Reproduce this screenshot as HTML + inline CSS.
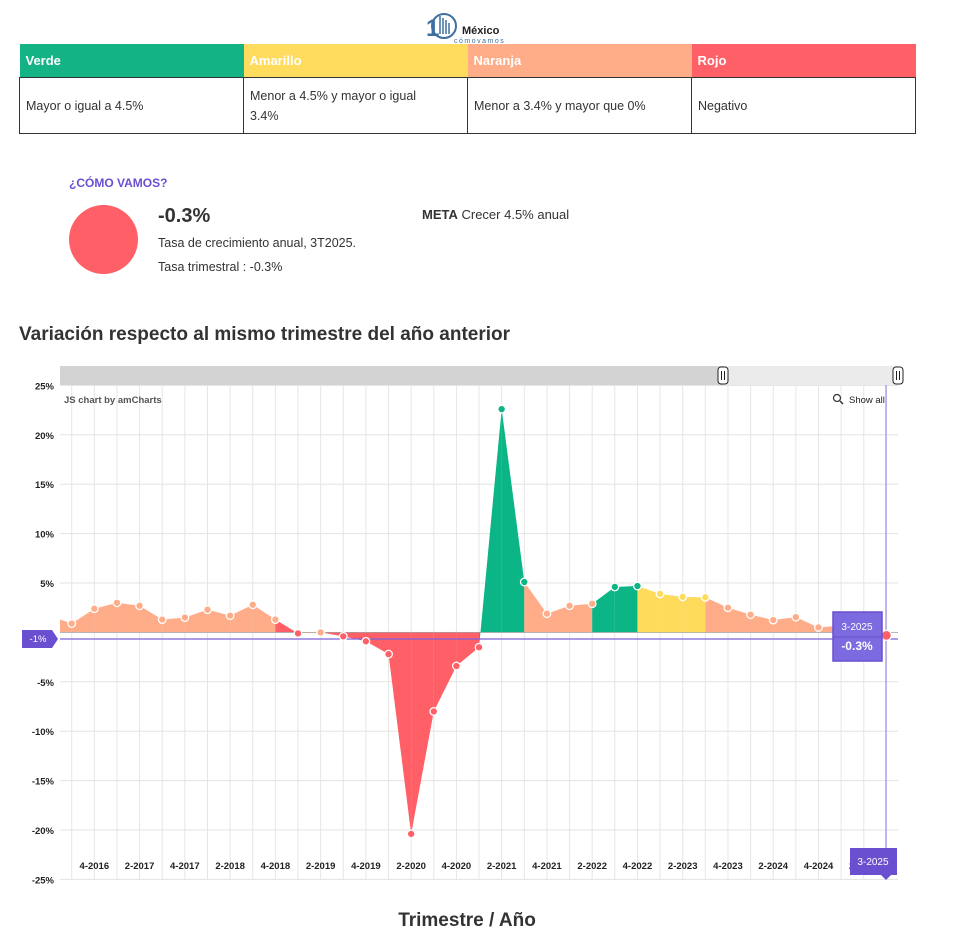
<!DOCTYPE html>
<html><head><meta charset="utf-8">
<style>
body{margin:0;background:#fff;font-family:"Liberation Sans",sans-serif;color:#333;width:954px;height:930px;overflow:hidden;position:relative}
.abs{position:absolute}
table{position:absolute;left:19px;top:44px;width:897px;border-collapse:collapse;table-layout:fixed}
th{height:33px;color:#fff;text-align:left;font-size:13px;padding:0 6px;font-weight:bold}
td{height:55px;border:1px solid #333;font-size:12.5px;padding:0 6px;line-height:20px;color:#333}
</style></head><body>
<div class="abs" style="left:426px;top:8px;width:110px;height:36px">
<svg width="110" height="36"><text x="0" y="28" font-size="24" font-weight="bold" fill="#3e6fa0" font-family="Liberation Sans">1</text>
<circle cx="18" cy="18" r="12" fill="none" stroke="#3e6fa0" stroke-width="2"/>
<g stroke="#3e6fa0" stroke-width="1.5"><line x1="14" y1="8" x2="14" y2="26"/><line x1="17" y1="10" x2="17" y2="26"/><line x1="20" y1="12" x2="20" y2="26"/><line x1="23" y1="15" x2="23" y2="26"/></g>
<text x="36" y="26" font-size="11" font-weight="bold" fill="#222" font-family="Liberation Sans">México</text>
<text x="28" y="35" font-size="7" letter-spacing="1.5" fill="#3e6fa0" font-family="Liberation Sans">cómovamos</text></svg></div>
<table><tr><th style="background:#13b386">Verde</th><th style="background:#ffdb5e">Amarillo</th><th style="background:#ffad89">Naranja</th><th style="background:#ff5f67">Rojo</th></tr>
<tr><td>Mayor o igual a 4.5%</td><td>Menor a 4.5% y mayor o igual<br>3.4%</td><td>Menor a 3.4% y mayor que 0%</td><td>Negativo</td></tr></table>
<div class="abs" style="left:69px;top:176px;font-size:12px;font-weight:bold;color:#6a4fd0">¿CÓMO VAMOS?</div>
<div class="abs" style="left:69px;top:205px;width:69px;height:69px;border-radius:50%;background:#ff5f67"></div>
<div class="abs" style="left:158px;top:205px;font-size:20px;font-weight:bold;color:#333">-0.3%</div>
<div class="abs" style="left:158px;top:236px;font-size:12.5px">Tasa de crecimiento anual, 3T2025.</div>
<div class="abs" style="left:158px;top:260px;font-size:12.5px">Tasa trimestral : -0.3%</div>
<div class="abs" style="left:422px;top:207px;font-size:13px"><b>META</b> Crecer 4.5% anual</div>
<div class="abs" style="left:19px;top:324px;font-size:19px;font-weight:bold;color:#333">Variación respecto al mismo trimestre del año anterior</div>
<svg id="ch" class="abs" style="left:0;top:0" width="954" height="930"></svg>
<div class="abs" style="left:0;width:934px;text-align:center;top:910px;font-size:19px;font-weight:bold;color:#333">Trimestre / Año</div>
<script>
var v=[0.9,2.4,3.0,2.7,1.3,1.5,2.3,1.7,2.8,1.3,-0.1,0.0,-0.4,-0.9,-2.2,-20.4,-8.0,-3.4,-1.5,22.6,5.1,1.9,2.7,2.9,4.6,4.7,3.9,3.6,3.55,2.5,1.8,1.25,1.55,0.5,0.7,0.6,-0.3];
var Z=632.4,K=9.88,X0=71.7,DX=22.63;
function y(p){return Z-p*K}function x(i){return X0+DX*i}
function col(p){return p>=4.5?'#0cb585':p>=3.4?'#ffdb5c':p>=0?'#ffac89':'#ff5f66'}
var s='';
for(var i=0;i<37;i++)s+='<line x1="'+x(i)+'" y1="385" x2="'+x(i)+'" y2="879" stroke="#e6e6e6"/>';
for(var p=-25;p<=25;p+=5){s+='<line x1="60" y1="'+y(p)+'" x2="898" y2="'+y(p)+'" stroke="#e3e3e3"/>';
s+='<text x="54" y="'+(y(p)+4)+'" text-anchor="end" font-size="9.5" font-weight="bold" fill="#222">'+p+'%</text>';}
function seg(xa,ya,xb,yb,c){s+='<polygon points="'+xa+','+Z+' '+xa+','+ya+' '+xb+','+yb+' '+xb+','+Z+'" fill="'+c+'"/>';}
seg(60,y(1.3),x(0),y(v[0]),col(v[0]));
for(var i=0;i<36;i++)seg(x(i),y(v[i]),x(i+1),y(v[i+1]),col(v[i+1]));
s+='<line x1="60" y1="'+Z+'" x2="898" y2="'+Z+'" stroke="#999" stroke-width="0.6"/>';
s+='<line x1="60" y1="639" x2="898" y2="639" stroke="#7a62d8" stroke-width="1.2"/>';
s+='<line x1="886" y1="385" x2="886" y2="879" stroke="#9b8ee6" stroke-width="1.2"/>';
for(var i=0;i<37;i++){var c=col(v[i]);s+='<circle cx="'+x(i)+'" cy="'+y(v[i])+'" r="'+(i==36?5:3.8)+'" fill="'+c+'" stroke="#fff" stroke-width="1.3"/>';}
var L=['4-2016','2-2017','4-2017','2-2018','4-2018','2-2019','4-2019','2-2020','4-2020','2-2021','4-2021','2-2022','4-2022','2-2023','4-2023','2-2024','4-2024','2-2025'];
for(var k=0;k<18;k++)s+='<text x="'+x(1+2*k)+'" y="869" text-anchor="middle" font-size="9.5" font-weight="bold" fill="#222">'+L[k]+'</text>';
s+='<rect x="60" y="366" width="838" height="19" fill="#ebebeb"/><rect x="60" y="366" width="663" height="19" fill="#d3d3d3"/>';
[723,898].forEach(function(g){s+='<rect x="'+(g-5)+'" y="367" width="10" height="17" rx="3" fill="#fff" stroke="#222"/><line x1="'+(g-1.5)+'" y1="371" x2="'+(g-1.5)+'" y2="380" stroke="#222"/><line x1="'+(g+1.5)+'" y1="371" x2="'+(g+1.5)+'" y2="380" stroke="#222"/>';});
s+='<text x="64" y="403" font-size="9.5" font-weight="bold" fill="#555">JS chart by amCharts</text>';
s+='<circle cx="837" cy="398" r="3.5" fill="none" stroke="#333" stroke-width="1.2"/><line x1="840" y1="401" x2="843" y2="404" stroke="#333" stroke-width="1.5"/>';
s+='<text x="849" y="403" font-size="9.5" fill="#222">Show all</text>';
s+='<polygon points="22,630 52,630 58,639 52,648 22,648" fill="#6a4fd0"/><text x="38" y="642" text-anchor="middle" font-size="9.5" fill="#fff">-1%</text>';
s+='<rect x="833" y="612" width="49" height="49" fill="#7c6ae0" stroke="#6a4fd0" stroke-width="1.5"/><text x="857" y="630" text-anchor="middle" font-size="10" fill="#fff">3-2025</text><line x1="833" y1="637" x2="882" y2="637" stroke="#6a4fd0"/><text x="857" y="650" text-anchor="middle" font-size="12" font-weight="bold" fill="#fff">-0.3%</text>';
s+='<rect x="850" y="848" width="47" height="27" fill="#6a4fd0"/><polygon points="881,875 891,875 886,880" fill="#6a4fd0"/><text x="873" y="865" text-anchor="middle" font-size="10" fill="#fff">3-2025</text>';
document.getElementById('ch').innerHTML=s;
</script>
</body></html>
